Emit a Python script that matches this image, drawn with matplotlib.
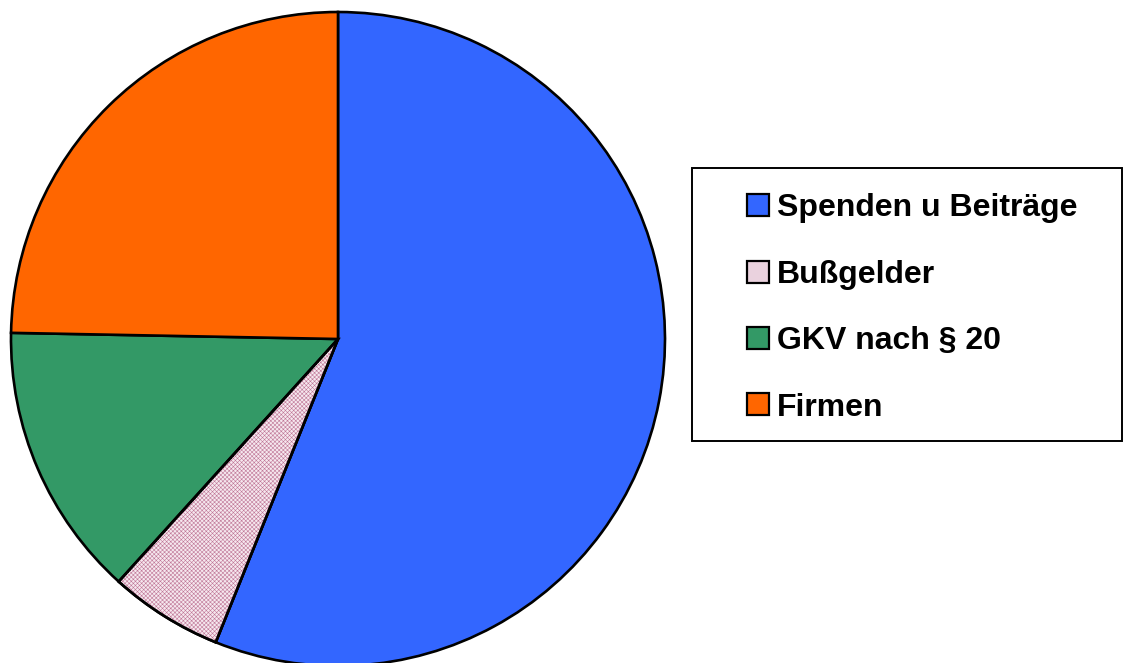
import matplotlib.pyplot as plt
from matplotlib.patches import Patch, Rectangle, Wedge

plt.rcParams["font.family"] = ["Liberation Sans", "DejaVu Sans"]
plt.rcParams["hatch.linewidth"] = 0.4

labels = ["Spenden u Beiträge", "Bußgelder", "GKV nach § 20", "Firmen"]
shares = [56.1, 5.6, 13.6, 24.7]
colors = ["#3366FF", "#F6E8EF", "#339966", "#FF6600"]
HATCH_COLOR = "#C07898"

fig = plt.figure(figsize=(11.23, 6.63), dpi=100)
ax = fig.add_axes([11 / 1123, -3 / 663, 654 / 1123, 654 / 663])

wedges, _ = ax.pie(
    shares,
    colors=colors,
    startangle=90,
    counterclock=False,
    radius=1.0,
    wedgeprops=dict(edgecolor="black", linewidth=1.9),
)

# fine hatch on the Bußgelder slice, drawn as an overlay so the outline stays black
w = wedges[1]
ax.add_patch(Wedge(w.center, w.r, w.theta1, w.theta2, facecolor="none",
                   edgecolor=HATCH_COLOR, linewidth=0, hatch="xxxxxxxx", zorder=w.get_zorder()))
ax.add_patch(Wedge(w.center, w.r, w.theta1, w.theta2, facecolor="none",
                   edgecolor="black", linewidth=1.9, zorder=w.get_zorder() + 0.1))

ax.set_xlim(-1.0, 1.0)
ax.set_ylim(-1.0, 1.0)
ax.axis("off")

# legend box drawn separately so it can run to the right edge like the original
fig.patches.append(Rectangle((692 / 1123, 1 - 441 / 663), 430 / 1123, 273 / 663,
                             transform=fig.transFigure, facecolor="white",
                             edgecolor="black", linewidth=1.4, zorder=0))

handle_colors = list(colors)
handle_colors[1] = "#EAD2DE"
handles = [Patch(facecolor=c, edgecolor="black", linewidth=1.6) for c in handle_colors]
leg = fig.legend(
    handles, labels,
    loc="center left",
    bbox_to_anchor=(747 / 1123, 1 - 308 / 663),
    frameon=False,
    prop=dict(weight="bold", size=23),
    handlelength=0.68,
    handleheight=0.68,
    handletextpad=0.25,
    labelspacing=1.14,
    borderpad=0,
    borderaxespad=0,
)

fig.savefig("out.png", dpi=100)
